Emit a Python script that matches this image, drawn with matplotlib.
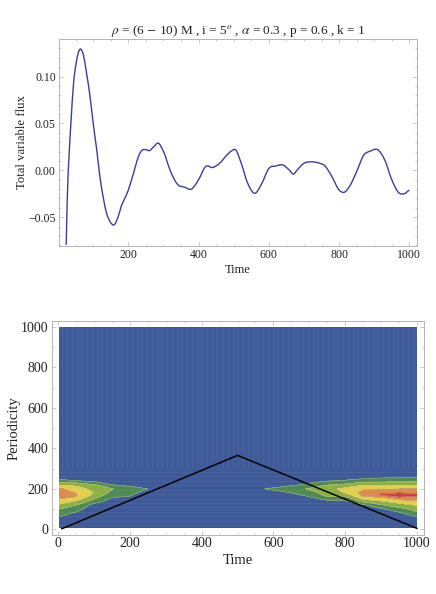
import numpy as np
import matplotlib
matplotlib.use('Agg')
import matplotlib.pyplot as plt
from matplotlib.path import Path
from matplotlib.patches import PathPatch
from matplotlib.ticker import MultipleLocator

plt.rcParams['font.family'] = ['Liberation Serif', 'DejaVu Serif']
plt.rcParams['mathtext.fontset'] = 'stix'

# top panel
flux_t = [23, 26, 31, 37, 44, 52, 62, 72, 81, 91, 100, 110, 119, 129, 138, 148, 160, 171, 181, 190, 200,
          220, 230, 240, 250, 260, 272, 285, 300, 320, 340, 360, 380, 400, 420, 440, 460, 480, 495, 505,
          520, 540, 560, 580, 600, 620, 640, 660, 670, 680, 700, 720, 740, 760, 780, 800, 815, 830, 850,
          870, 890, 910, 930, 950, 970, 985, 1000]
flux = [-0.0796, -0.0317, 0.0145, 0.0536, 0.0927, 0.1158, 0.129, 0.1229, 0.1034, 0.0785, 0.05, 0.0216,
        -0.0068, -0.0299, -0.0458, -0.0548, -0.058, -0.0495, -0.037, -0.0299, -0.021, 0.004, 0.016, 0.0216,
        0.022, 0.021, 0.025, 0.029, 0.02, -0.001, -0.015, -0.018, -0.02, -0.010, 0.004, 0.003, 0.0075,
        0.016, 0.021, 0.022, 0.009, -0.014, -0.0245, -0.014, 0.002, 0.0046, 0.0057, -0.0004, -0.004, 0,
        0.0075, 0.009, 0.008, 0.0046, -0.007, -0.021, -0.0234, -0.017, -0.0014, 0.016, 0.0206, 0.022,
        0.011, -0.010, -0.024, -0.025, -0.021]

# bottom panel, power on a coarse grid
time_grid = [3, 50, 100, 150, 200, 250, 300, 550, 575, 650, 700, 750, 800, 850, 900, 950, 1000]
period_grid = [8, 40, 60, 80, 100, 120, 140, 160, 170, 180, 200, 220, 240, 260, 995]
power = np.array([
    [.3, .5, .95, 1.4, 2.0, 2.8, 3.7, 4.3, 4.45, 4.5, 4.2, 2.8, 1.3, .4, .3],
    [.3, .3, .5, .85, 1.4, 2.0, 2.95, 3.95, 4.1, 3.95, 3.4, 2.8, 1.0, .3, .3],
    [.3, .3, .3, .3, .4, .6, 1.6, 2.4, 2.7, 2.95, 2.7, 2.1, .7, .3, .3],
    [.3, .3, .3, .3, .3, .4, .6, 1.05, 1.4, 1.7, 2.05, 1.0, .4, .3, .3],
    [.3, .3, .3, .3, .3, .3, .4, .95, 1.1, 1.2, 1.3, .8, .3, .3, .3],
    [.3, .3, .3, .3, .3, .3, .3, .4, .5, .7, 1.0, .4, .3, .3, .3],
    [.3, .3, .3, .3, .3, .3, .3, .3, .3, .3, .3, .3, .3, .3, .3],
    [.3, .3, .3, .3, .3, .3, .3, .3, .3, .3, .3, .3, .3, .3, .3],
    [.3, .3, .3, .3, .3, .3, .3, .4, .5, .7, 1.0, .6, .3, .3, .3],
    [.3, .3, .3, .3, .3, .3, .3, .6, .8, 1.0, 1.6, .8, .3, .3, .3],
    [.3, .3, .3, .3, .3, .3, .5, .97, 1.2, 1.5, 2.1, 1.3, .5, .3, .3],
    [.3, .3, .3, .3, .3, .4, .8, 1.95, 2.3, 2.5, 2.6, 1.95, .9, .3, .3],
    [.3, .3, .3, .3, .3, .4, .95, 1.7, 2.4, 3.05, 3.3, 2.2, 1.1, .4, .3],
    [.3, .3, .3, .3, .4, .8, 2.4, 3.9, 4.3, 4.3, 3.95, 2.9, 1.5, .5, .3],
    [.3, .3, .3, .5, .85, 1.85, 3.0, 4.1, 5.1, 4.9, 3.95, 2.85, 1.6, .7, .3],
    [.3, .3, .5, .8, 1.6, 2.6, 3.5, 5.05, 5.5, 5.0, 3.95, 2.9, 1.6, .75, .3],
    [.3, .5, .95, 1.75, 2.4, 3.1, 4.0, 4.9, 5.2, 4.9, 4.1, 2.8, 1.7, .9, .3],
])
levels = [0, 1, 2, 3, 4, 5, 6]
colors = ['#3f5a98', '#4f8a55', '#8fae42', '#e2cf4c', '#dd8b4c', '#cd3d3c']

# black triangle over the map
ridge_t = [10, 500, 1000]
ridge_p = [3, 365, 5]

frame = '#b4b4b4'
text_col = '#222222'


def style_axes(ax, size):
    for s in ax.spines.values():
        s.set_color(frame)
        s.set_linewidth(0.7)
    ax.tick_params(which='major', direction='in', length=3, width=0.5, color=frame,
                   labelsize=size, labelcolor=text_col, top=True, right=True, pad=2.5)
    ax.tick_params(which='minor', direction='in', length=1.5, width=0.5, color=frame,
                   top=True, right=True)


def smooth_path(x, y):
    # bezier through the read points so the curve has no corners
    x = np.array(x, dtype=float)
    y = np.array(y, dtype=float)
    dy = np.gradient(y, x)
    verts = [(x[0], y[0])]
    codes = [Path.MOVETO]
    for i in range(len(x) - 1):
        h = (x[i + 1] - x[i]) / 3
        verts += [(x[i] + h, y[i] + dy[i] * h), (x[i + 1] - h, y[i + 1] - dy[i + 1] * h), (x[i + 1], y[i + 1])]
        codes += [Path.CURVE4] * 3
    return Path(verts, codes)


W, H = 436.0, 594.0
fig = plt.figure(figsize=(W / 100, H / 100), dpi=100)

ax1 = fig.add_axes([59.3 / W, 1 - 245.7 / H, (416.7 - 59.3) / W, (245.7 - 39) / H])
ax1.add_patch(PathPatch(smooth_path(flux_t, flux), fill=False, edgecolor='#3c3c9c', lw=1.0))
ax1.set_xlim(3.4, 1021)
ax1.set_ylim(-0.0804, 0.140)
ax1.xaxis.set_major_locator(MultipleLocator(200))
ax1.xaxis.set_minor_locator(MultipleLocator(50))
ax1.yaxis.set_major_locator(MultipleLocator(0.05))
ax1.yaxis.set_minor_locator(MultipleLocator(0.01))
ax1.yaxis.set_major_formatter(lambda v, pos: f'{v:.2f}'.replace('-', '\u2212'))
style_axes(ax1, 8.5)
ax1.set_xlabel('Time', fontsize=9, color=text_col, labelpad=2)
ax1.set_ylabel('Total variable flux', fontsize=9.2, color=text_col, labelpad=0)
ax1.set_title(r'$\rho$ = (6 $-$ 10) M , i = 5$^{o}$ , $\alpha$ = 0.3 , p = 0.6 , k = 1',
              fontsize=9.5, color=text_col, pad=0.5)

ax2 = fig.add_axes([51.7 / W, 1 - 535 / H, (424 - 51.7) / W, (535 - 320.7) / H])
ax2.contourf(time_grid, period_grid, power.T, levels=levels, colors=colors)
ax2.contour(time_grid, period_grid, power.T, levels=levels[1:-1], colors='#b9c2a0', linewidths=0.3)
# faint streaks of the blue background
ax2.vlines(np.arange(10, 1000, 14), 300, 995, color='white', alpha=0.05, lw=0.8)
ax2.hlines(np.arange(20, 300, 22), 3, 1000, color='white', alpha=0.05, lw=0.8)
ax2.plot(ridge_t, ridge_p, color='black', lw=1.1)
ax2.set_xlim(-18.4, 1020)
ax2.set_ylim(-28, 1030)
ax2.xaxis.set_major_locator(MultipleLocator(200))
ax2.xaxis.set_minor_locator(MultipleLocator(50))
ax2.yaxis.set_major_locator(MultipleLocator(200))
ax2.yaxis.set_minor_locator(MultipleLocator(100))
style_axes(ax2, 10)
ax2.tick_params(axis='x', pad=1.5)
ax2.set_xlabel('Time', fontsize=10.5, color=text_col, labelpad=2.5)
ax2.set_ylabel('Periodicity', fontsize=10.5, color=text_col, labelpad=0)

fig.savefig('out.png', dpi=100)
